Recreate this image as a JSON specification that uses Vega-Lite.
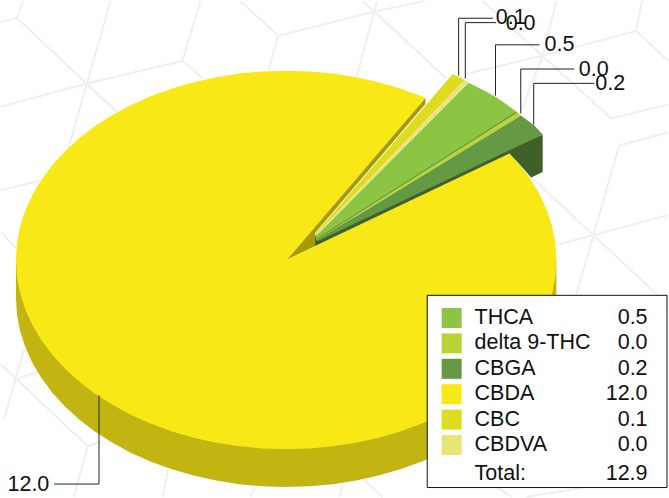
{"$schema":"https://vega.github.io/schema/vega-lite/v6.json","width":669,"height":498,"padding":0,"autosize":{"type":"fit","contains":"padding"},"background":"#ffffff","config":{"view":{"stroke":null},"font":"Liberation Sans"},
"datasets":{
"web":[{"x":0,"y":21,"x2":16,"y2":17},{"x":16,"y":17,"x2":22,"y2":0},{"x":16,"y":17,"x2":86,"y2":83},{"x":86,"y":83,"x2":110,"y2":0},{"x":0,"y":106,"x2":86,"y2":83},{"x":86,"y":83,"x2":182,"y2":60},{"x":182,"y":60,"x2":200,"y2":0},{"x":182,"y":60,"x2":203,"y2":78},{"x":86,"y":83,"x2":117,"y2":112},{"x":86,"y":83,"x2":68,"y2":147},{"x":0,"y":190,"x2":40,"y2":180},{"x":0,"y":232,"x2":15,"y2":248},{"x":240,"y":0,"x2":278,"y2":35},{"x":278,"y":35,"x2":373,"y2":11},{"x":373,"y":11,"x2":425,"y2":0},{"x":278,"y":35,"x2":268,"y2":70},{"x":363,"y":0,"x2":447,"y2":78},{"x":377,"y":0,"x2":357,"y2":75},{"x":467,"y":73,"x2":543,"y2":55},{"x":483,"y":0,"x2":543,"y2":55},{"x":557,"y":0,"x2":543,"y2":55},{"x":543,"y":55,"x2":612,"y2":118},{"x":543,"y":55,"x2":637,"y2":30},{"x":637,"y":30,"x2":643,"y2":0},{"x":637,"y":30,"x2":669,"y2":60},{"x":543,"y":55,"x2":522,"y2":110},{"x":612,"y":118,"x2":669,"y2":104},{"x":620,"y":145,"x2":669,"y2":132},{"x":620,"y":145,"x2":577,"y2":295},{"x":532,"y":177,"x2":669,"y2":305},{"x":557,"y":245,"x2":669,"y2":215},{"x":23,"y":350,"x2":3,"y2":420},{"x":0,"y":365,"x2":87,"y2":447},{"x":15,"y":380,"x2":37,"y2":372},{"x":87,"y":447,"x2":100,"y2":442},{"x":87,"y":447,"x2":73,"y2":498},{"x":168,"y":470,"x2":162,"y2":498},{"x":255,"y":488,"x2":250,"y2":498},{"x":343,"y":485,"x2":339,"y2":498},{"x":363,"y":480,"x2":383,"y2":498},{"x":497,"y":488,"x2":513,"y2":498},{"x":527,"y":498,"x2":587,"y2":488}],
"shapes":[
{"part":"CBDA side","x":15,"y":260},{"part":"CBDA side","x":15,"y":298},{"part":"CBDA side","x":16,"y":314.6},{"part":"CBDA side","x":19.1,"y":331},{"part":"CBDA side","x":24.2,"y":347.2},{"part":"CBDA side","x":31.3,"y":363},{"part":"CBDA side","x":40.4,"y":378.3},{"part":"CBDA side","x":51.3,"y":393},{"part":"CBDA side","x":64,"y":407},{"part":"CBDA side","x":78.4,"y":420.1},{"part":"CBDA side","x":94.4,"y":432.4},{"part":"CBDA side","x":111.8,"y":443.5},{"part":"CBDA side","x":130.6,"y":453.7},{"part":"CBDA side","x":150.5,"y":462.5},{"part":"CBDA side","x":171.5,"y":470.2},{"part":"CBDA side","x":193.3,"y":476.5},{"part":"CBDA side","x":215.9,"y":481.5},{"part":"CBDA side","x":239,"y":485.1},{"part":"CBDA side","x":262.4,"y":487.3},{"part":"CBDA side","x":286,"y":488},{"part":"CBDA side","x":309.6,"y":487.3},{"part":"CBDA side","x":333,"y":485.1},{"part":"CBDA side","x":356.1,"y":481.5},{"part":"CBDA side","x":378.7,"y":476.5},{"part":"CBDA side","x":400.5,"y":470.2},{"part":"CBDA side","x":421.5,"y":462.5},{"part":"CBDA side","x":441.4,"y":453.7},{"part":"CBDA side","x":460.2,"y":443.5},{"part":"CBDA side","x":477.6,"y":432.4},{"part":"CBDA side","x":493.6,"y":420.1},{"part":"CBDA side","x":508,"y":407},{"part":"CBDA side","x":520.7,"y":393},{"part":"CBDA side","x":531.6,"y":378.3},{"part":"CBDA side","x":540.7,"y":363},{"part":"CBDA side","x":547.8,"y":347.2},{"part":"CBDA side","x":552.9,"y":331},{"part":"CBDA side","x":556,"y":314.6},{"part":"CBDA side","x":557,"y":298},{"part":"CBDA side","x":557,"y":260},
{"part":"CBDA","x":425.7,"y":97.3},{"part":"CBDA","x":421.5,"y":95.5},{"part":"CBDA","x":400.5,"y":87.8},{"part":"CBDA","x":378.7,"y":81.5},{"part":"CBDA","x":356.1,"y":76.5},{"part":"CBDA","x":333,"y":72.9},{"part":"CBDA","x":309.6,"y":70.7},{"part":"CBDA","x":286,"y":70},{"part":"CBDA","x":262.4,"y":70.7},{"part":"CBDA","x":239,"y":72.9},{"part":"CBDA","x":215.9,"y":76.5},{"part":"CBDA","x":193.3,"y":81.5},{"part":"CBDA","x":171.5,"y":87.8},{"part":"CBDA","x":150.5,"y":95.5},{"part":"CBDA","x":130.6,"y":104.3},{"part":"CBDA","x":111.8,"y":114.5},{"part":"CBDA","x":94.4,"y":125.6},{"part":"CBDA","x":78.4,"y":137.9},{"part":"CBDA","x":64,"y":151},{"part":"CBDA","x":51.3,"y":165},{"part":"CBDA","x":40.4,"y":179.7},{"part":"CBDA","x":31.3,"y":195},{"part":"CBDA","x":24.2,"y":210.8},{"part":"CBDA","x":19.1,"y":227},{"part":"CBDA","x":16,"y":243.4},{"part":"CBDA","x":15,"y":260},{"part":"CBDA","x":16,"y":276.6},{"part":"CBDA","x":19.1,"y":293},{"part":"CBDA","x":24.2,"y":309.2},{"part":"CBDA","x":31.3,"y":325},{"part":"CBDA","x":40.4,"y":340.3},{"part":"CBDA","x":51.3,"y":355},{"part":"CBDA","x":64,"y":369},{"part":"CBDA","x":78.4,"y":382.1},{"part":"CBDA","x":94.4,"y":394.4},{"part":"CBDA","x":111.8,"y":405.5},{"part":"CBDA","x":130.6,"y":415.7},{"part":"CBDA","x":150.5,"y":424.5},{"part":"CBDA","x":171.5,"y":432.2},{"part":"CBDA","x":193.3,"y":438.5},{"part":"CBDA","x":215.9,"y":443.5},{"part":"CBDA","x":239,"y":447.1},{"part":"CBDA","x":262.4,"y":449.3},{"part":"CBDA","x":286,"y":450},{"part":"CBDA","x":309.6,"y":449.3},{"part":"CBDA","x":333,"y":447.1},{"part":"CBDA","x":356.1,"y":443.5},{"part":"CBDA","x":378.7,"y":438.5},{"part":"CBDA","x":400.5,"y":432.2},{"part":"CBDA","x":421.5,"y":424.5},{"part":"CBDA","x":441.4,"y":415.7},{"part":"CBDA","x":460.2,"y":405.5},{"part":"CBDA","x":477.6,"y":394.4},{"part":"CBDA","x":493.6,"y":382.1},{"part":"CBDA","x":508,"y":369},{"part":"CBDA","x":520.7,"y":355},{"part":"CBDA","x":531.6,"y":340.3},{"part":"CBDA","x":540.7,"y":325},{"part":"CBDA","x":547.8,"y":309.2},{"part":"CBDA","x":552.9,"y":293},{"part":"CBDA","x":556,"y":276.6},{"part":"CBDA","x":557,"y":260},{"part":"CBDA","x":556,"y":243.4},{"part":"CBDA","x":552.9,"y":227},{"part":"CBDA","x":547.8,"y":210.8},{"part":"CBDA","x":540.7,"y":195},{"part":"CBDA","x":531.6,"y":179.7},{"part":"CBDA","x":520.7,"y":165},{"part":"CBDA","x":510,"y":153},{"part":"CBDA","x":287.3,"y":259.3},
{"part":"CBDA wall","x":287.3,"y":259.3},{"part":"CBDA wall","x":425.7,"y":97.3},{"part":"CBDA wall","x":425.7,"y":103.5},{"part":"CBDA wall","x":315,"y":233},{"part":"CBDA wall","x":315,"y":246},
{"part":"CBGA side","x":543.3,"y":134},{"part":"CBGA side","x":543.3,"y":171.7},{"part":"CBGA side","x":531.7,"y":177.3},{"part":"CBGA side","x":521,"y":165},{"part":"CBGA side","x":510,"y":153},{"part":"CBGA side","x":315,"y":246},{"part":"CBGA side","x":315,"y":235},
{"part":"CBC","x":315,"y":234},{"part":"CBC","x":453,"y":73.3},{"part":"CBC","x":465,"y":79.3},{"part":"CBC","x":315,"y":235.5},
{"part":"CBDVA","x":315,"y":235.5},{"part":"CBDVA","x":465,"y":79.3},{"part":"CBDVA","x":468.8,"y":81.7},{"part":"CBDVA","x":315.5,"y":236.5},
{"part":"THCA","x":315.5,"y":236.5},{"part":"THCA","x":469,"y":82},{"part":"THCA","x":483,"y":89},{"part":"THCA","x":496.7,"y":96.7},{"part":"THCA","x":508,"y":104.5},{"part":"THCA","x":517.3,"y":111.5},{"part":"THCA","x":316,"y":239.5},
{"part":"delta 9-THC","x":316,"y":239.5},{"part":"delta 9-THC","x":517.3,"y":111.5},{"part":"delta 9-THC","x":521.5,"y":115},{"part":"delta 9-THC","x":316.5,"y":240.5},
{"part":"CBGA","x":316.5,"y":240.5},{"part":"CBGA","x":521.5,"y":115},{"part":"CBGA","x":535,"y":125},{"part":"CBGA","x":543.3,"y":134},{"part":"CBGA","x":318,"y":241},
{"part":"THCA edge","x":316,"y":239},{"part":"THCA edge","x":517.3,"y":111},{"part":"THCA edge","x":517.3,"y":112.2},{"part":"THCA edge","x":316,"y":240}
],
"leaders":[
{"name":"CBC","x":459,"y":75},{"name":"CBC","x":459,"y":17.3},{"name":"CBC","x":493.3,"y":17.3},
{"name":"CBDVA","x":465.7,"y":78},{"name":"CBDVA","x":465.7,"y":21.7},{"name":"CBDVA","x":496.7,"y":21.7},
{"name":"THCA","x":496,"y":95},{"name":"THCA","x":496,"y":44},{"name":"THCA","x":540,"y":44},
{"name":"delta 9-THC","x":521.3,"y":113},{"name":"delta 9-THC","x":521.3,"y":68.3},{"name":"delta 9-THC","x":575,"y":68.3},
{"name":"CBGA","x":534.3,"y":124},{"name":"CBGA","x":534.3,"y":82.7},{"name":"CBGA","x":595,"y":82.7},
{"name":"CBDA","x":98.3,"y":396},{"name":"CBDA","x":98.3,"y":485},{"name":"CBDA","x":53.3,"y":485}
],
"labels":[
{"name":"CBC","value":"0.1","x":496.2,"y":17.5},{"name":"CBDVA","value":"0.0","x":506.2,"y":23},{"name":"THCA","value":"0.5","x":545.2,"y":44},{"name":"delta 9-THC","value":"0.0","x":579.5,"y":69},{"name":"CBGA","value":"0.2","x":596,"y":83.5},{"name":"CBDA","value":"12.0","x":6.5,"y":485.5}
],
"frame":[{"name":"legend"}],
"table":[
{"name":"THCA","value":"0.5"},{"name":"delta 9-THC","value":"0.0"},{"name":"CBGA","value":"0.2"},{"name":"CBDA","value":"12.0"},{"name":"CBC","value":"0.1"},{"name":"CBDVA","value":"0.0"},{"name":"Total:","value":"12.9"}
]},
"resolve":{"scale":{"y":"independent"}},
"layer":[
{"layer":[
{"data":{"name":"web"},"mark":{"type":"rule","stroke":"#edeff0","strokeWidth":2},"encoding":{"x":{"field":"x","type":"quantitative","scale":{"domain":[0,669],"nice":false,"zero":false},"axis":null},"y":{"field":"y","type":"quantitative","scale":{"domain":[498,0],"nice":false,"zero":false},"axis":null},"x2":{"field":"x2"},"y2":{"field":"y2"}}},
{"data":{"name":"shapes"},"transform":[{"window":[{"op":"row_number","as":"step"}]}],"mark":{"type":"line","filled":true,"strokeWidth":0},"encoding":{"x":{"field":"x","type":"quantitative"},"y":{"field":"y","type":"quantitative"},"order":{"field":"step","type":"quantitative"},"color":{"field":"part","type":"nominal","legend":null,"scale":{"domain":["THCA","delta 9-THC","CBGA","CBDA","CBC","CBDVA","CBDA side","CBDA wall","CBGA side","THCA edge"],"range":["#8cc544","#b9d437","#649a43","#f7e816","#dfdc1f","#e9e676","#c2b512","#a69b05","#3f6128","#5f8a3c"]}}}},
{"data":{"name":"leaders"},"transform":[{"window":[{"op":"row_number","as":"step"}]}],"mark":{"type":"line","stroke":"#222222","strokeWidth":1},"encoding":{"x":{"field":"x","type":"quantitative"},"y":{"field":"y","type":"quantitative"},"order":{"field":"step","type":"quantitative"},"detail":{"field":"name"}}},
{"data":{"name":"labels"},"mark":{"type":"text","align":"left","baseline":"middle","fontSize":21.5,"font":"Liberation Sans","fill":"#111111"},"encoding":{"x":{"field":"x","type":"quantitative"},"y":{"field":"y","type":"quantitative"},"text":{"field":"value"}}},
{"data":{"name":"frame"},"mark":{"type":"rect","fill":"#ffffff","stroke":"#111111","strokeWidth":1},"encoding":{"x":{"datum":427.5},"x2":{"datum":668},"y":{"datum":295.5},"y2":{"datum":488.5}}}
]},
{"data":{"name":"table"},"layer":[
{"transform":[{"filter":"datum.name !== 'Total:'"}],"mark":{"type":"point","shape":"square","filled":true,"size":400,"opacity":1},"encoding":{"x":{"datum":452},"y":{"field":"name","type":"ordinal","sort":null,"axis":null,"scale":{"type":"point","domain":["THCA","delta 9-THC","CBGA","CBDA","CBC","CBDVA","Total:"],"range":[317,469.4],"padding":0}},"color":{"field":"name","type":"nominal","legend":null}}},
{"transform":[{"filter":"datum.name !== 'Total:'"}],"mark":{"type":"text","align":"left","baseline":"middle","fontSize":21.5,"font":"Liberation Sans","fill":"#111111"},"encoding":{"x":{"datum":475},"y":{"field":"name","type":"ordinal","sort":null,"axis":null},"text":{"field":"name"}}},
{"transform":[{"filter":"datum.name !== 'Total:'"}],"mark":{"type":"text","align":"right","baseline":"middle","fontSize":21.5,"font":"Liberation Sans","fill":"#111111"},"encoding":{"x":{"datum":648.5},"y":{"field":"name","type":"ordinal","sort":null,"axis":null},"text":{"field":"value"}}},
{"transform":[{"filter":"datum.name === 'Total:'"}],"mark":{"type":"text","align":"left","baseline":"middle","fontSize":21.5,"dy":4,"font":"Liberation Sans","fill":"#111111"},"encoding":{"x":{"datum":475},"y":{"field":"name","type":"ordinal","sort":null,"axis":null},"text":{"field":"name"}}},
{"transform":[{"filter":"datum.name === 'Total:'"}],"mark":{"type":"text","align":"right","baseline":"middle","fontSize":21.5,"dy":4,"font":"Liberation Sans","fill":"#111111"},"encoding":{"x":{"datum":648.5},"y":{"field":"name","type":"ordinal","sort":null,"axis":null},"text":{"field":"value"}}}
]}
]}
